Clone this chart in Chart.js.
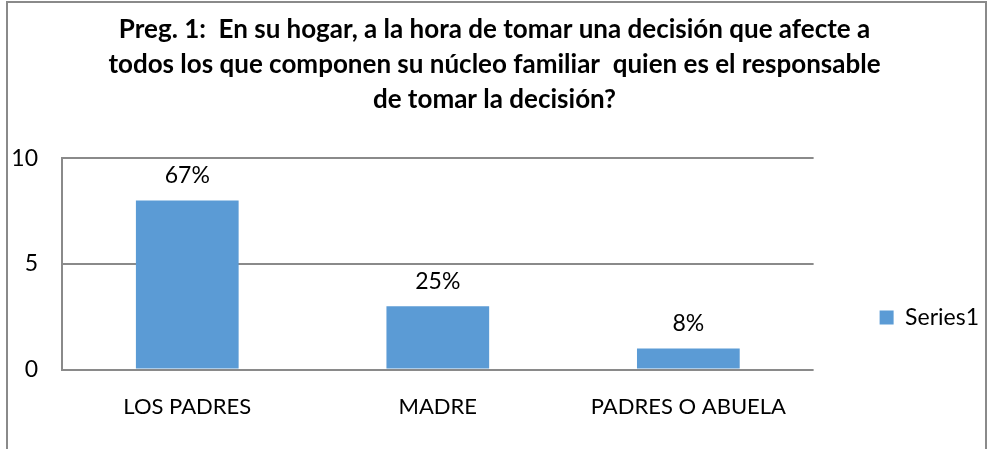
<!DOCTYPE html>
<html>
<head>
<meta charset="utf-8">
<script src="https://cdn.jsdelivr.net/npm/chart.js@4.4.1/dist/chart.umd.min.js"></script>
<style>
	body { margin: 0; background: #fff; }
	#frame {
		position: absolute; left: 6px; top: 1px;
		width: 977px; height: 470px;
		border: 2px solid #8a8a8a;
	}
	#wrap { position: absolute; left: 0; top: 0; width: 996px; height: 449px; }
</style>
</head>
<body>
<div id="frame"></div>
<div id="wrap"><canvas id="chart" width="996" height="449"></canvas></div>
<script>
	// datos
	var categorias = ['LOS PADRES', 'MADRE', 'PADRES O ABUELA'];
	var valores = [8, 3, 1];
	var porcentajes = ['67%', '25%', '8%'];
	var titulo = [
		'Preg. 1:  En su hogar, a la hora de tomar una decisión que afecte a',
		'todos los que componen su núcleo familiar  quien es el responsable',
		'de tomar la decisión?'
	];

	var fuente = 'Lato, "Open Sans", sans-serif';

	// etiquetas encima de cada barra
	var etiquetas = {
		id: 'etiquetas',
		afterDatasetsDraw: function(chart) {
			var ctx = chart.ctx;
			var meta = chart.getDatasetMeta(0);
			ctx.save();
			ctx.font = '23px ' + fuente;
			ctx.fillStyle = '#000';
			ctx.textAlign = 'center';
			ctx.textBaseline = 'middle';
			meta.data.forEach(function(bar, i) {
				ctx.fillText(porcentajes[i], bar.x, bar.y - 25);
			});
			ctx.restore();
		}
	};

	new Chart(document.getElementById('chart'), {
		type: 'bar',
		data: {
			labels: categorias,
			datasets: [{
				label: 'Series1',
				data: valores,
				backgroundColor: '#5B9BD5',
				barPercentage: 0.41,
				categoryPercentage: 1
			}]
		},
		options: {
			responsive: false,
			animation: false,
			layout: { padding: { left: 0, right: 7, top: 0, bottom: 13 } },
			plugins: {
				title: {
					display: true,
					text: titulo,
					color: '#000',
					font: { family: fuente, size: 26, weight: 'bold', lineHeight: 1.35 },
					padding: { top: 12, bottom: 41 }
				},
				legend: {
					position: 'right',
					align: 'start',
					// titulo vacio solo para bajar la leyenda
					title: {
						display: true,
						text: ' ',
						font: { size: 10, lineHeight: 1 },
						padding: { top: 230, bottom: 0 }
					},
					labels: {
						color: '#000',
						font: { family: fuente, size: 23 },
						boxWidth: 14,
						boxHeight: 14,
						padding: 66
					}
				},
				tooltip: { enabled: false }
			},
			scales: {
				x: {
					grid: { display: false },
					border: { display: false },
					ticks: { color: '#000', font: { family: fuente, size: 22 }, padding: 16 }
				},
				y: {
					min: 0,
					max: 10,
					ticks: { stepSize: 5, color: '#000', font: { family: fuente, size: 23 }, padding: 24 },
					grid: { color: '#8a8a8a', lineWidth: 2, drawTicks: false },
					border: { color: '#8a8a8a', width: 2 },
					afterFit: function(scale) { scale.width = 62; }
				}
			}
		},
		plugins: [etiquetas]
	});
</script>
</body>
</html>
